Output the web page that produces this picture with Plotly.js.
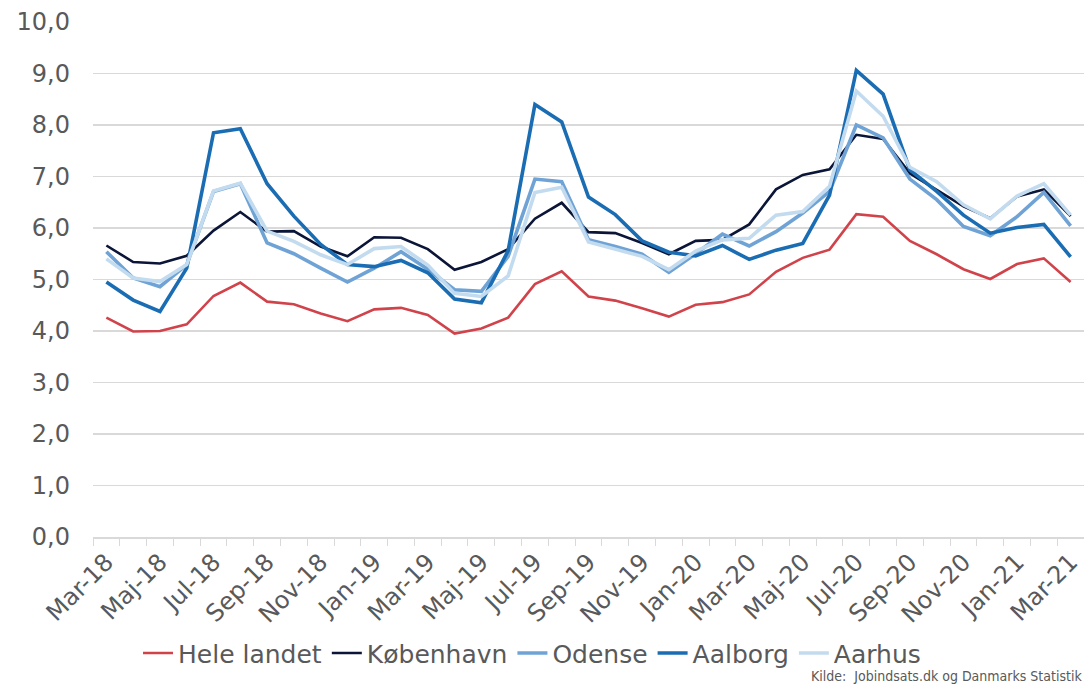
<!DOCTYPE html>
<html>
<head>
<meta charset="utf-8">
<script src="https://cdn.plot.ly/plotly-3.0.1.min.js"></script>
<style>html,body{margin:0;padding:0;background:#fff;}#chart{width:1084px;height:687px;}</style>
</head>
<body>
<div id="chart"></div>
<script>
const months = ["Mar-18","Apr-18","Maj-18","Jun-18","Jul-18","Aug-18","Sep-18","Okt-18","Nov-18","Dec-18",
  "Jan-19","Feb-19","Mar-19","Apr-19","Maj-19","Jun-19","Jul-19","Aug-19","Sep-19","Okt-19","Nov-19","Dec-19",
  "Jan-20","Feb-20","Mar-20","Apr-20","Maj-20","Jun-20","Jul-20","Aug-20","Sep-20","Okt-20","Nov-20","Dec-20",
  "Jan-21","Feb-21","Mar-21"];

const heleLandet = [4.26,3.99,4.00,4.13,4.68,4.94,4.57,4.52,4.34,4.19,4.42,4.45,4.31,3.95,4.05,4.26,4.91,5.16,4.67,4.59,4.44,4.28,4.51,4.56,4.71,5.15,5.42,5.58,6.27,6.22,5.75,5.49,5.20,5.01,5.30,5.41,4.95];
const koebenhavn = [5.66,5.34,5.31,5.46,5.95,6.31,5.93,5.94,5.64,5.45,5.82,5.81,5.59,5.19,5.34,5.59,6.18,6.49,5.92,5.90,5.71,5.49,5.75,5.77,6.07,6.75,7.03,7.14,7.81,7.73,7.06,6.74,6.42,6.19,6.61,6.75,6.23];
const odense = [5.54,5.03,4.86,5.29,6.71,6.86,5.71,5.50,5.22,4.95,5.22,5.54,5.20,4.80,4.77,5.45,6.95,6.90,5.77,5.64,5.49,5.14,5.50,5.88,5.65,5.93,6.29,6.71,8.00,7.75,6.95,6.55,6.03,5.85,6.22,6.69,6.04];
const aalborg = [4.95,4.60,4.38,5.22,7.85,7.93,6.86,6.23,5.68,5.29,5.25,5.37,5.13,4.62,4.55,5.56,8.40,8.06,6.60,6.26,5.75,5.53,5.46,5.66,5.39,5.57,5.70,6.64,9.06,8.60,7.13,6.71,6.25,5.90,6.01,6.07,5.44];
const aarhus = [5.40,5.03,4.96,5.29,6.72,6.87,5.94,5.74,5.48,5.29,5.60,5.64,5.28,4.73,4.67,5.07,6.69,6.79,5.73,5.59,5.45,5.19,5.55,5.77,5.80,6.25,6.32,6.81,8.66,8.17,7.18,6.90,6.45,6.18,6.62,6.86,6.25];

const seriesNames = ["Hele landet","København","Odense","Aalborg","Aarhus"];
const seriesData = [heleLandet, koebenhavn, odense, aalborg, aarhus];
const colors = ["#d1434b","#0b1538","#6fa3d6","#1b6db3","#c3dbef"];
const widths = [2.6,2.6,3.6,3.6,3.6];

const traces = seriesData.map((ys,i)=>({
  type:"scatter", mode:"lines", name:seriesNames[i],
  x:months, y:ys,
  line:{color:colors[i], width:widths[i]},
  hoverinfo:"x+y+name"
}));

const fontFam = "'DejaVu Sans', sans-serif";
const layout = {
  width:1084, height:687,
  margin:{l:93, r:0, t:22, b:150},
  paper_bgcolor:"#fff", plot_bgcolor:"#fff",
  separators:",.",
  font:{family:fontFam, color:"#595959"},
  showlegend:true,
  legend:{orientation:"h", x:0.443, xanchor:"center", y:-0.181, yanchor:"top",
    font:{size:25, color:"#595959", family:fontFam}, traceorder:"normal",
    itemwidth:30, tracegroupgap:0},
  xaxis:{type:"category", tickmode:"array", tickvals:months,
    ticktext:months.map((m,i)=> i%2===0 ? m : ""),
    tickangle:-45, tickson:"boundaries", ticks:"outside", ticklen:7, tickcolor:"#d9d9d9", tickwidth:1,
    showline:true, linecolor:"#d9d9d9", linewidth:1.5,
    showgrid:false, zeroline:false, automargin:false,
    range:[-0.5, 36.5],
    tickfont:{size:24, color:"#595959", family:fontFam}},
  yaxis:{range:[0,10], dtick:1, tickformat:".1f",
    showgrid:true, gridcolor:"#d9d9d9", gridwidth:1.5, zeroline:false, showline:false,
    ticks:"", ticklabelstandoff:22, automargin:false,
    tickfont:{size:24, color:"#595959", family:fontFam}},
  annotations:[{text:"Kilde:  Jobindsats.dk og Danmarks Statistik", xref:"paper", yref:"paper",
    x:1, xanchor:"right", y:-0.2895, yanchor:"bottom", showarrow:false,
    font:{size:14, color:"#595959", family:"'Liberation Sans Narrow', 'DejaVu Sans Condensed', sans-serif"}}]
};

Plotly.newPlot("chart", traces, layout, {displayModeBar:false, staticPlot:true});
</script>
</body>
</html>
